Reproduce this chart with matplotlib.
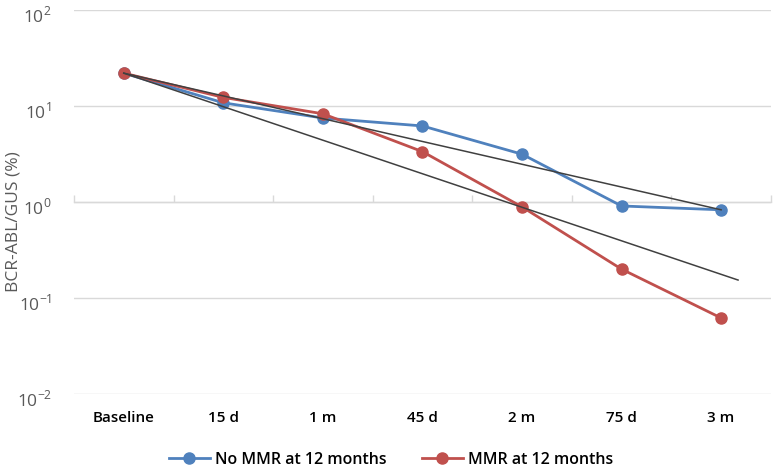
import matplotlib
matplotlib.use("Agg")
import matplotlib.pyplot as plt
import matplotlib.transforms as mtransforms
import numpy as np

plt.rcParams["font.family"] = ["Open Sans", "DejaVu Sans"]
plt.rcParams["mathtext.fontset"] = "custom"
plt.rcParams["mathtext.rm"] = "Open Sans"

# ── data ─────────────────────────────────────────
categories = ["Baseline", "15 d", "1 m", "45 d", "2 m", "75 d", "3 m"]
no_mmr = [22.0, 10.8, 7.5, 6.2, 3.15, 0.91, 0.83]
mmr    = [22.0, 12.3, 8.3, 3.35, 0.89, 0.20, 0.062]

# trend lines (category position, value)
trend_no_mmr_x = [0, 6]
trend_no_mmr_y = [22.0, 0.83]
trend_mmr_x = [0, 6.17]
trend_mmr_y = [22.0, 0.154]

y_ticks = [1e-2, 1e-1, 1e0, 1e1, 1e2]
y_tick_labels = ["$10^{-2}$", "$10^{-1}$", "$10^{0}$", "$10^{1}$", "$10^{2}$"]

BLUE = "#4F81BD"
RED = "#C0504D"
GRID = "#D9D9D9"

fig = plt.figure(figsize=(7.74, 4.68), dpi=100)
ax = fig.add_axes([0.0956, 0.158, 0.9004, 0.8206])

x = np.arange(len(categories))
ax.set_yscale("log")
ax.set_ylim(1e-2, 1e2)
ax.set_xlim(-0.5, len(categories) - 0.5)

for yv in y_ticks:
    ax.axhline(yv, color=GRID, lw=1.0, zorder=0)

ax.plot(x, no_mmr, color=BLUE, lw=2.0, marker="o", ms=8,
        label="No MMR at 12 months", zorder=3)
ax.plot(x, mmr, color=RED, lw=2.0, marker="o", ms=8,
        label="MMR at 12 months", zorder=3)
ax.plot(trend_no_mmr_x, trend_no_mmr_y, color="#404040", lw=1.1, zorder=4)
ax.plot(trend_mmr_x, trend_mmr_y, color="#404040", lw=1.1, zorder=4)

for s in ax.spines.values():
    s.set_visible(False)

ax.set_yticks(y_ticks)
ax.set_yticklabels(y_tick_labels)
ax.yaxis.set_minor_locator(matplotlib.ticker.NullLocator())
ax.tick_params(axis="y", length=0, pad=16, labelsize=12.5, labelcolor="#595959")
# Excel puts the "10" a bit below the gridline
shift = mtransforms.ScaledTranslation(0, -4 / 100, fig.dpi_scale_trans)
for lbl in ax.get_yticklabels():
    lbl.set_transform(lbl.get_transform() + shift)

ax.set_xticks(x)
ax.set_xticklabels(categories, fontweight="semibold")
ax.tick_params(axis="x", length=0, pad=12, labelsize=11, labelcolor="#000000")

# category axis crossing at 10^0 with tick marks between categories
sec = ax.secondary_xaxis(0.5)
sec.set_xticks(np.arange(len(categories) + 1) - 0.5)
sec.set_xticklabels([])
sec.tick_params(axis="x", length=5, width=1.0, color=GRID, direction="out")
for s in sec.spines.values():
    s.set_color(GRID)
    s.set_linewidth(1.0)

ax.set_ylabel("BCR-ABL/GUS (%)", fontsize=12.5, color="#595959")
ax.yaxis.set_label_coords(-0.075, 0.45)

leg = fig.legend(loc="lower center", bbox_to_anchor=(0.505, -0.03), ncol=2,
                 frameon=False, fontsize=11.5, handlelength=2.6,
                 columnspacing=2.2, handletextpad=0.3)
for t in leg.get_texts():
    t.set_fontweight("semibold")

fig.savefig("out.png", dpi=100)
